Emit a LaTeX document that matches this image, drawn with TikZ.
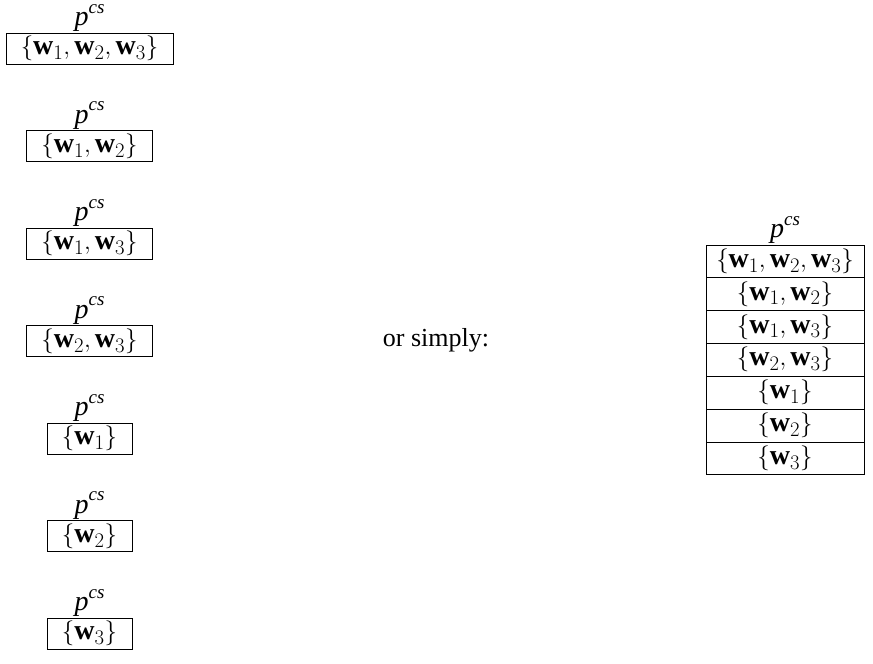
\documentclass[tikz,border=0pt]{standalone}
\usepackage{fontspec}
\setmainfont{Liberation Serif}
\usetikzlibrary{positioning}
\tikzset{x=1pt, y=1pt,
    every node/.style={font=\fontsize{26}{30}\selectfont},
    setbox/.style={draw, font=\fontsize{28}{32}\selectfont, minimum height=31pt, inner xsep=15pt, inner ysep=1.5pt},
    setrow/.style={draw, font=\fontsize{28}{32}\selectfont, minimum width=158pt, minimum height=32.5pt, inner sep=0pt},
    prob/.style={font=\fontsize{28}{30}\selectfont, inner sep=0pt},
    }
\newcommand{\pcs}{\textit{p\raisebox{0.44em}{\fontsize{19}{19}\selectfont cs}}}

\begin{document}
\begin{tikzpicture}
	\useasboundingbox (0,0) rectangle (873,-664);
	% one box per subset
	\node[setbox] (s123) at (89.5,-48.5) {$\{\mathbf{w}_1,\mathbf{w}_2,\mathbf{w}_3\}$};
	\node[setbox] (s12) at (89.5,-146) {$\{\mathbf{w}_1,\mathbf{w}_2\}$};
	\node[setbox] (s13) at (89.5,-243.5) {$\{\mathbf{w}_1,\mathbf{w}_3\}$};
	\node[setbox] (s23) at (89.5,-341) {$\{\mathbf{w}_2,\mathbf{w}_3\}$};
	\node[setbox] (s1) at (89.5,-438.5) {$\{\mathbf{w}_1\}$};
	\node[setbox] (s2) at (89.5,-536) {$\{\mathbf{w}_2\}$};
	\node[setbox] (s3) at (89.5,-633.5) {$\{\mathbf{w}_3\}$};
	\node[prob, above=1pt of s123] (p123) {\pcs};
	\node[prob, above=1pt of s12] (p12) {\pcs};
	\node[prob, above=1pt of s13] (p13) {\pcs};
	\node[prob, above=1pt of s23] (p23) {\pcs};
	\node[prob, above=1pt of s1] (p1) {\pcs};
	\node[prob, above=1pt of s2] (p2) {\pcs};
	\node[prob, above=1pt of s3] (p3) {\pcs};
	\node (or) at (436,-340) {or simply:};
	% the same as one table
	\node[setrow] (r123) at (785,-261) {$\{\mathbf{w}_1,\mathbf{w}_2,\mathbf{w}_3\}$};
	\node[setrow, below=0pt of r123] (r12) {$\{\mathbf{w}_1,\mathbf{w}_2\}$};
	\node[setrow, below=0pt of r12] (r13) {$\{\mathbf{w}_1,\mathbf{w}_3\}$};
	\node[setrow, below=0pt of r13] (r23) {$\{\mathbf{w}_2,\mathbf{w}_3\}$};
	\node[setrow, below=0pt of r23] (r1) {$\{\mathbf{w}_1\}$};
	\node[setrow, below=0pt of r1] (r2) {$\{\mathbf{w}_2\}$};
	\node[setrow, below=0pt of r2] (r3) {$\{\mathbf{w}_3\}$};
	\node[prob, above=1pt of r123] (ptab) {\pcs};
\end{tikzpicture}
\end{document}
